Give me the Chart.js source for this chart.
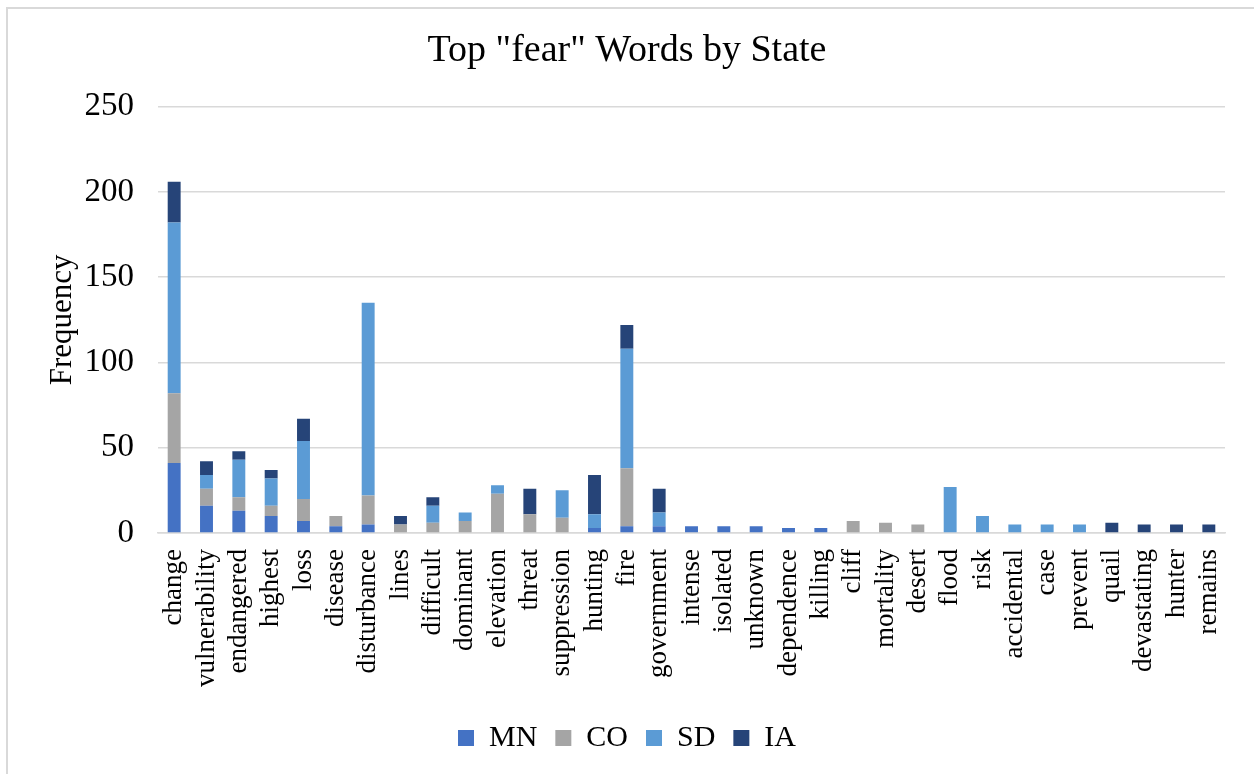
<!DOCTYPE html>
<html lang="en">
<head>
    <meta charset="UTF-8">
    <title>Top "fear" Words by State</title>
    <script src="https://cdn.jsdelivr.net/npm/chart.js"></script>
    <style>
        html, body {
            margin: 0;
            padding: 0;
            overflow: hidden;
            background: #ffffff;
        }
        .frame {
            position: absolute;
            left: 6px;
            top: 7px;
            width: 1300px;
            height: 820px;
            border: 2px solid #d9d9d9;
        }
        .chart-box {
            position: absolute;
            left: 0;
            top: 0;
            width: 1254px;
            height: 774px;
        }
    </style>
</head>
<body>
    <div class="frame"></div>
    <div class="chart-box">
        <canvas id="fearChart" width="1254" height="774"></canvas>
    </div>

    <script>
        // Words (x axis)
        const words = ['change', 'vulnerability', 'endangered', 'highest', 'loss', 'disease',
            'disturbance', 'lines', 'difficult', 'dominant', 'elevation', 'threat',
            'suppression', 'hunting', 'fire', 'government', 'intense', 'isolated',
            'unknown', 'dependence', 'killing', 'cliff', 'mortality', 'desert', 'flood',
            'risk', 'accidental', 'case', 'prevent', 'quail', 'devastating', 'hunter', 'remains'];

        // Frequencies per state, same order as words
        const mnValues = [41, 16, 13, 10, 7, 4, 5, 0, 0, 0, 0, 0, 0, 3, 4, 4, 4, 4, 4, 3, 3,
            0, 0, 0, 0, 0, 0, 0, 0, 0, 0, 0, 0];
        const coValues = [41, 10, 8, 6, 13, 6, 17, 5, 6, 7, 23, 11, 9, 0, 34, 0, 0, 0, 0, 0, 0,
            7, 6, 5, 0, 0, 0, 0, 0, 0, 0, 0, 0];
        const sdValues = [100, 8, 22, 16, 34, 0, 113, 0, 10, 5, 5, 0, 16, 8, 70, 8, 0, 0, 0, 0, 0,
            0, 0, 0, 27, 10, 5, 5, 5, 0, 0, 0, 0];
        const iaValues = [24, 8, 5, 5, 13, 0, 0, 5, 5, 0, 0, 15, 0, 23, 14, 14, 0, 0, 0, 0, 0,
            0, 0, 0, 0, 0, 0, 0, 0, 6, 5, 5, 5];

        const yTicks = [0, 50, 100, 150, 200, 250];

        const serif = '"Liberation Serif", "Times New Roman", serif';

        function makeSet(label, data, color) {
            return {
                label: label,
                data: data,
                backgroundColor: color,
                borderWidth: 0,
                barPercentage: 0.4,
                categoryPercentage: 1.0,
                yAxisID: 'y'
            };
        }

        const ctx = document.getElementById('fearChart').getContext('2d');
        const chart = new Chart(ctx, {
            type: 'bar',
            data: {
                labels: words,
                datasets: [
                    makeSet('MN', mnValues, '#4472c4'),
                    makeSet('CO', coValues, '#a5a5a5'),
                    makeSet('SD', sdValues, '#5b9bd5'),
                    makeSet('IA', iaValues, '#264478')
                ]
            },
            options: {
                responsive: false,
                animation: false,
                layout: {
                    padding: { left: 0, right: 0, top: 0, bottom: 11 }
                },
                plugins: {
                    title: {
                        display: true,
                        text: 'Top "fear" Words by State',
                        color: '#000',
                        font: { family: serif, size: 38, weight: 'normal' },
                        padding: { top: 28, bottom: 33 }
                    },
                    legend: {
                        position: 'bottom',
                        labels: {
                            color: '#000',
                            font: { family: serif, size: 30 },
                            boxWidth: 16,
                            boxHeight: 16,
                            padding: 18
                        }
                    },
                    tooltip: { enabled: false }
                },
                scales: {
                    x: {
                        stacked: true,
                        grid: { display: false },
                        border: { display: true, color: '#d9d9d9', width: 1.5 },
                        ticks: {
                            color: '#000',
                            font: { family: serif, size: 27 },
                            minRotation: 90,
                            maxRotation: 90,
                            autoSkip: false,
                            padding: 8
                        },
                        afterFit: function (scale) {
                            scale.height = 172;
                        }
                    },
                    y: {
                        stacked: true,
                        min: 0,
                        max: 250,
                        afterBuildTicks: function (scale) {
                            scale.ticks = yTicks.map(v => ({ value: v }));
                        },
                        grid: { color: '#d9d9d9', lineWidth: 1.5, drawTicks: false },
                        border: { display: false },
                        title: {
                            display: true,
                            text: 'Frequency',
                            color: '#000',
                            font: { family: serif, size: 31 },
                            padding: { top: 44, bottom: 0 }
                        },
                        ticks: {
                            color: '#000',
                            font: { family: serif, size: 33 },
                            padding: 24
                        },
                        afterFit: function (scale) {
                            scale.width = 158;
                        }
                    },
                    // empty right-hand spacer so the title and legend centre on the page
                    spacer: {
                        type: 'linear',
                        position: 'right',
                        display: true,
                        grid: { display: false },
                        border: { display: false },
                        ticks: { display: false },
                        afterFit: function (scale) {
                            scale.width = 29;
                        }
                    }
                }
            }
        });
    </script>
</body>
</html>
